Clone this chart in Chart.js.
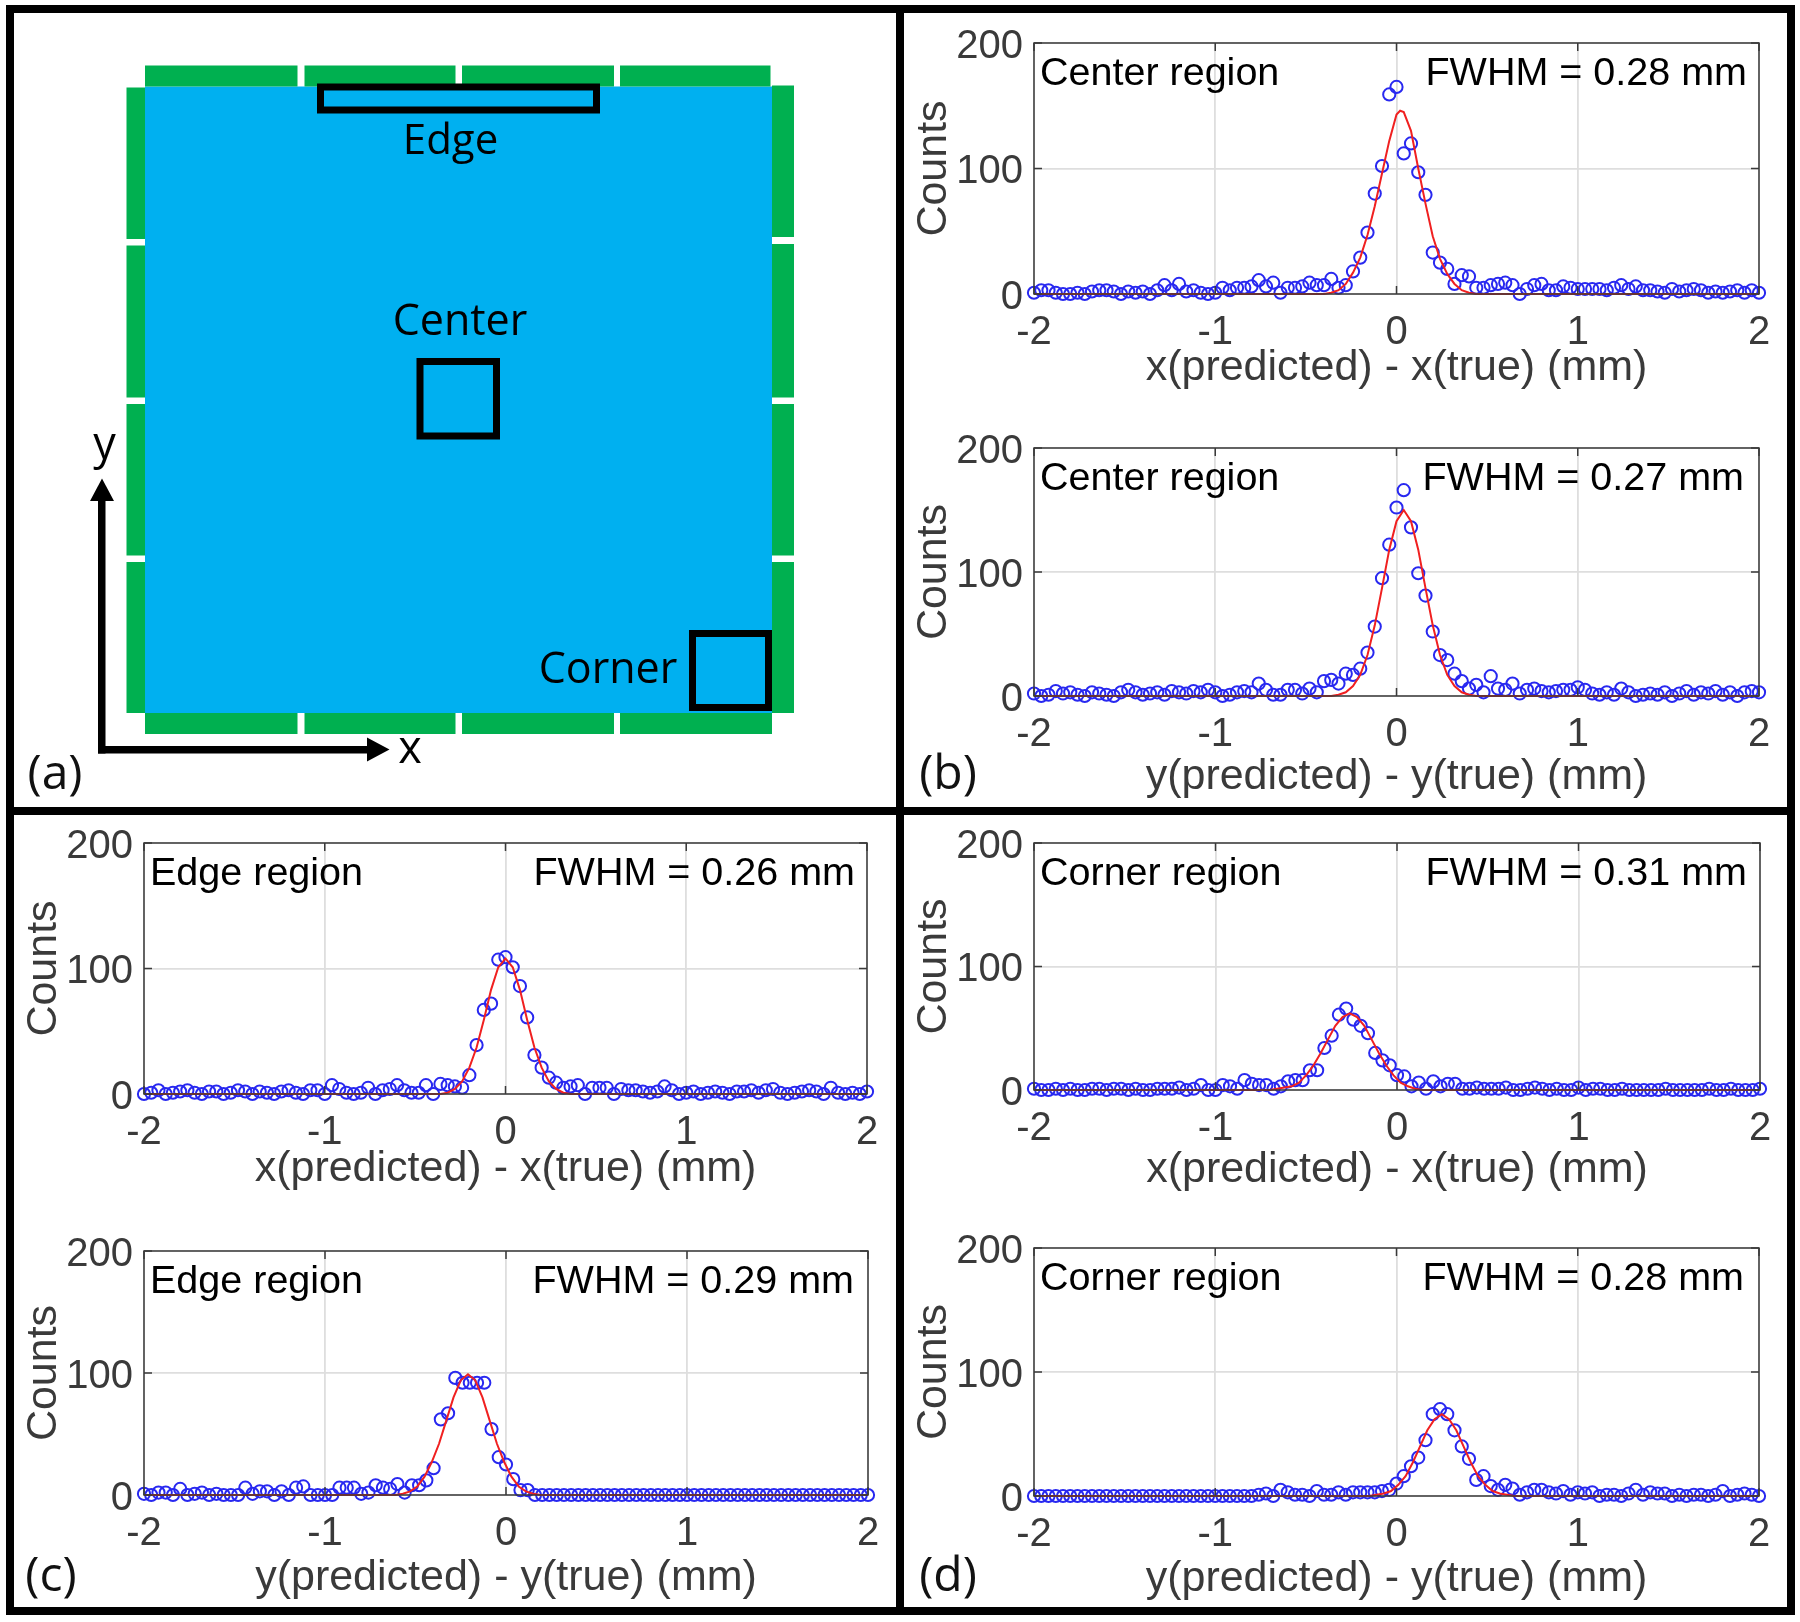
<!DOCTYPE html>
<html>
<head>
<meta charset="utf-8">
<title>Position histograms</title>
<script src="https://cdn.jsdelivr.net/npm/chart.js@4/dist/chart.umd.min.js"></script>
<style>
    html, body { margin: 0; padding: 0; background: #fff; }
    #page { position: relative; width: 1800px; height: 1622px; overflow: hidden; filter: blur(0.4px); }
    #page canvas { position: absolute; }
    .bar { position: absolute; background: #000; }
    .tag { position: absolute; font: 48px "Open Sans", sans-serif; color: #111; transform: translate(-50%, -50%); }
</style>
</head>
<body>
<div id="page">
    <canvas id="diagram" style="left:0;top:0" width="900" height="820"></canvas>
    <canvas id="c1" width="10" height="10"></canvas>
    <canvas id="c2" width="10" height="10"></canvas>
    <canvas id="c3" width="10" height="10"></canvas>
    <canvas id="c4" width="10" height="10"></canvas>
    <canvas id="c5" width="10" height="10"></canvas>
    <canvas id="c6" width="10" height="10"></canvas>
    <div class="bar" style="left:6px;top:5px;width:1789px;height:8px"></div>
    <div class="bar" style="left:6px;top:1607px;width:1789px;height:8px"></div>
    <div class="bar" style="left:6px;top:5px;width:8px;height:1610px"></div>
    <div class="bar" style="left:1787px;top:5px;width:8px;height:1610px"></div>
    <div class="bar" style="left:896px;top:5px;width:8px;height:1610px"></div>
    <div class="bar" style="left:6px;top:807px;width:1789px;height:8px"></div>
    <div class="tag" style="left:55px;top:770px">(a)</div>
    <div class="tag" style="left:948px;top:770px">(b)</div>
    <div class="tag" style="left:51px;top:1572px">(c)</div>
    <div class="tag" style="left:948px;top:1572px">(d)</div>
</div>
<script>
// histogram bin centers (mm)
const bins = [
    -2.00, -1.96, -1.92, -1.88, -1.84, -1.80, -1.76, -1.72, -1.68, -1.64,
    -1.60, -1.56, -1.52, -1.48, -1.44, -1.40, -1.36, -1.32, -1.28, -1.24,
    -1.20, -1.16, -1.12, -1.08, -1.04, -1.00, -0.96, -0.92, -0.88, -0.84,
    -0.80, -0.76, -0.72, -0.68, -0.64, -0.60, -0.56, -0.52, -0.48, -0.44,
    -0.40, -0.36, -0.32, -0.28, -0.24, -0.20, -0.16, -0.12, -0.08, -0.04,
    0.00, 0.04, 0.08, 0.12, 0.16, 0.20, 0.24, 0.28, 0.32, 0.36,
    0.40, 0.44, 0.48, 0.52, 0.56, 0.60, 0.64, 0.68, 0.72, 0.76,
    0.80, 0.84, 0.88, 0.92, 0.96, 1.00, 1.04, 1.08, 1.12, 1.16,
    1.20, 1.24, 1.28, 1.32, 1.36, 1.40, 1.44, 1.48, 1.52, 1.56,
    1.60, 1.64, 1.68, 1.72, 1.76, 1.80, 1.84, 1.88, 1.92, 1.96, 2.00
];

const xTickValues = [-2, -1, 0, 1, 2];
const yTickValues = [0, 100, 200];

// counts
const centerXCounts = [
    1, 3, 3, 1, 0, 0, 1, 0, 2, 3,
    3, 2, 0, 2, 1, 2, 0, 3, 7, 3,
    8, 2, 3, 1, 0, 1, 5, 3, 5, 5,
    6, 11, 6, 9, 1, 5, 5, 6, 9, 7,
    7, 12, 5, 7, 18, 29, 49, 80, 102, 159,
    165, 112, 120, 97, 79, 33, 25, 20, 8, 15,
    14, 5, 5, 7, 8, 9, 7, 0, 4, 7,
    8, 3, 3, 6, 5, 4, 4, 4, 4, 3,
    5, 7, 4, 6, 3, 3, 2, 1, 4, 2,
    3, 4, 3, 1, 2, 1, 2, 3, 1, 3, 1
];
const centerYCounts = [
    2, 0, 1, 4, 2, 3, 1, 0, 3, 2,
    1, 0, 3, 5, 3, 1, 2, 3, 1, 4,
    3, 2, 4, 3, 5, 3, 0, 1, 3, 4,
    3, 10, 5, 1, 1, 5, 5, 2, 6, 3,
    12, 13, 10, 18, 17, 22, 35, 56, 95, 122,
    152, 166, 136, 99, 81, 52, 33, 29, 18, 12,
    6, 9, 3, 16, 6, 5, 10, 2, 5, 6,
    4, 3, 4, 5, 5, 7, 5, 2, 1, 3,
    1, 6, 3, 0, 1, 2, 1, 3, 0, 2,
    4, 1, 3, 2, 4, 1, 3, 0, 3, 4, 3
];
const edgeXCounts = [
    0, 1, 3, 0, 1, 2, 3, 1, 0, 2,
    2, 0, 1, 3, 2, 0, 2, 1, 0, 2,
    3, 1, 0, 3, 3, 0, 7, 4, 1, 0,
    1, 5, 0, 3, 4, 7, 3, 1, 1, 7,
    0, 8, 7, 6, 5, 15, 39, 67, 72, 107,
    109, 101, 86, 61, 31, 21, 13, 9, 5, 6,
    7, 0, 5, 5, 5, 0, 4, 3, 3, 2,
    1, 2, 6, 3, 0, 1, 2, 0, 1, 2,
    1, 0, 2, 2, 3, 1, 3, 4, 1, 0,
    1, 2, 3, 2, 0, 5, 1, 0, 1, 0, 2
];
const edgeYCounts = [
    1, 0, 2, 2, 0, 5, 0, 1, 2, 0,
    1, 0, 0, 0, 6, 1, 3, 3, 0, 3,
    0, 6, 7, 0, 0, 0, 0, 6, 6, 6,
    1, 2, 8, 6, 5, 9, 2, 8, 8, 12,
    22, 62, 67, 96, 92, 92, 92, 92, 54, 31,
    25, 13, 4, 4, 0, 0, 0, 0, 0, 0,
    0, 0, 0, 0, 0, 0, 0, 0, 0, 0,
    0, 0, 0, 0, 0, 0, 0, 0, 0, 0,
    0, 0, 0, 0, 0, 0, 0, 0, 0, 0,
    0, 0, 0, 0, 0, 0, 0, 0, 0, 0, 0
];
const cornerXCounts = [
    1, 0, 0, 1, 0, 1, 0, 0, 1, 1,
    0, 1, 1, 0, 1, 0, 0, 1, 1, 1,
    2, 0, 1, 4, 0, 0, 4, 3, 1, 8,
    5, 4, 4, 1, 3, 7, 8, 8, 16, 16,
    34, 44, 61, 66, 57, 52, 46, 30, 24, 20,
    12, 11, 3, 6, 1, 7, 3, 5, 5, 1,
    1, 2, 1, 1, 1, 2, 0, 0, 1, 2,
    1, 0, 1, 0, 0, 2, 0, 1, 1, 0,
    0, 1, 0, 0, 0, 0, 0, 1, 0, 0,
    0, 0, 0, 1, 0, 0, 1, 0, 0, 0, 1
];
const cornerYCounts = [
    0, 0, 0, 0, 0, 0, 0, 0, 0, 0,
    0, 0, 0, 0, 0, 0, 0, 0, 0, 0,
    0, 0, 0, 0, 0, 0, 0, 0, 0, 0,
    0, 1, 2, 0, 5, 3, 1, 1, 0, 4,
    1, 1, 3, 1, 3, 3, 3, 3, 4, 5,
    10, 16, 24, 31, 45, 66, 70, 66, 53, 40,
    30, 13, 16, 8, 5, 9, 6, 1, 3, 5,
    5, 3, 2, 4, 1, 3, 2, 3, 0, 1,
    1, 0, 2, 5, 1, 3, 2, 2, 0, 1,
    0, 1, 1, 0, 1, 4, 0, 1, 2, 1, 0
];

// fitted curves
const centerXFitX = [-2, -0.4, -0.36, -0.32, -0.28, -0.24, -0.2, -0.16, -0.12, -0.08, -0.04, 0, 0.02, 0.04, 0.08, 0.12, 0.16, 0.2, 0.24, 0.28, 0.32, 0.36, 0.4, 0.44, 2];
const centerXFitY = [0, 0, 1, 3, 8, 17, 29, 47, 70, 96, 122, 143, 146, 145, 130, 100, 72, 46, 28, 16, 8, 3, 1, 0, 0];
const centerYFitX = [-2, -0.36, -0.32, -0.28, -0.24, -0.2, -0.16, -0.12, -0.08, -0.04, 0, 0.04, 0.08, 0.12, 0.16, 0.2, 0.24, 0.28, 0.32, 0.36, 0.4, 0.44, 2];
const centerYFitY = [0, 0, 1, 3, 8, 17, 33, 57, 87, 118, 141, 150, 141, 118, 87, 57, 33, 17, 8, 3, 1, 0, 0];
const edgeXFitX = [-2, -0.36, -0.32, -0.28, -0.24, -0.2, -0.16, -0.12, -0.08, -0.04, 0, 0.04, 0.08, 0.12, 0.16, 0.2, 0.24, 0.28, 0.32, 0.36, 2];
const edgeXFitY = [0, 0, 1, 4, 10, 21, 37, 59, 83, 101, 108, 101, 83, 59, 37, 21, 10, 4, 1, 0, 0];
const edgeYFitX = [-2, -0.61, -0.57, -0.53, -0.49, -0.45, -0.41, -0.37, -0.33, -0.29, -0.25, -0.21, -0.17, -0.13, -0.09, -0.05, -0.01, 0.03, 0.07, 0.11, 0.15, 0.19, 2];
const edgeYFitY = [0, 0, 1, 3, 7, 15, 27, 42, 61, 80, 94, 99, 94, 80, 61, 42, 27, 15, 7, 3, 1, 0, 0];
const cornerXFitX = [-2, -0.7, -0.66, -0.62, -0.58, -0.54, -0.5, -0.46, -0.42, -0.38, -0.34, -0.3, -0.26, -0.22, -0.18, -0.14, -0.1, -0.06, -0.02, 0.02, 0.06, 0.1, 0.14, 2];
const cornerXFitY = [0, 0, 1, 2, 3, 6, 12, 20, 30, 41, 52, 59, 62, 59, 52, 41, 30, 20, 12, 6, 3, 1, 0, 0];
const cornerYFitX = [-2, -0.15, -0.11, -0.07, -0.03, 0.01, 0.05, 0.09, 0.13, 0.17, 0.21, 0.25, 0.29, 0.33, 0.37, 0.41, 0.45, 0.49, 0.53, 0.57, 0.61, 0.65, 2];
const cornerYFitY = [0, 0, 1, 2, 4, 9, 16, 27, 40, 53, 62, 66, 62, 53, 40, 27, 16, 9, 4, 2, 1, 0, 0];

const FONT = '"Liberation Sans", Arial, sans-serif';
const DARK = '#3a3a3a';
const LEFT_W = 126, TOP_PAD = 30, RIGHT_PAD = 32;

function pairs(xs, ys) {
    return xs.map((x, i) => ({ x: x, y: ys[i] }));
}

// matlab style box, inward ticks and the two labels inside the axes
const boxPlugin = {
    id: 'box',
    afterDraw(chart, args, opts) {
        const { ctx, chartArea: a, scales } = chart;
        ctx.save();
        ctx.strokeStyle = DARK;
        ctx.lineWidth = 1.5;
        ctx.strokeRect(a.left, a.top, a.right - a.left, a.bottom - a.top);
        ctx.beginPath();
        xTickValues.forEach(v => {
            const px = scales.x.getPixelForValue(v);
            ctx.moveTo(px, a.bottom); ctx.lineTo(px, a.bottom - 8);
            ctx.moveTo(px, a.top); ctx.lineTo(px, a.top + 8);
        });
        yTickValues.forEach(v => {
            const py = scales.y.getPixelForValue(v);
            ctx.moveTo(a.left, py); ctx.lineTo(a.left + 8, py);
            ctx.moveTo(a.right, py); ctx.lineTo(a.right - 8, py);
        });
        ctx.stroke();
        ctx.fillStyle = '#000';
        ctx.font = '39.5px ' + FONT;
        ctx.textBaseline = 'middle';
        ctx.textAlign = 'left';
        ctx.fillText(opts.region, a.left + 6, a.top + 31);
        ctx.textAlign = 'right';
        ctx.fillText(opts.fwhm, a.right - opts.fwhmInset, a.top + 31);
        ctx.restore();
    }
};

function histogram(id, box, axisName, counts, fitX, fitY, region, fwhm, fwhmInset) {
    const canvas = document.getElementById(id);
    const bottomH = box.drop + 29;
    canvas.width = box.r - box.l + LEFT_W + RIGHT_PAD;
    canvas.height = box.b - box.t + bottomH + TOP_PAD;
    canvas.style.left = (box.l - LEFT_W) + 'px';
    canvas.style.top = (box.t - TOP_PAD) + 'px';
    canvas.style.width = canvas.width + 'px';
    canvas.style.height = canvas.height + 'px';
    return new Chart(canvas, {
        type: 'scatter',
        data: {
            datasets: [
                {
                    label: 'fit',
                    data: pairs(fitX, fitY),
                    showLine: true,
                    borderColor: '#f02020',
                    borderWidth: 2,
                    pointRadius: 0,
                    tension: 0,
                    clip: false,
                    order: 1
                },
                {
                    label: 'counts',
                    data: pairs(bins, counts),
                    showLine: false,
                    pointStyle: 'circle',
                    pointRadius: 6.1,
                    pointBorderWidth: 2,
                    pointBorderColor: '#2828f0',
                    pointBackgroundColor: 'rgba(0,0,0,0)',
                    clip: false,
                    order: 2
                }
            ]
        },
        options: {
            responsive: false,
            animation: false,
            layout: { padding: { top: TOP_PAD, right: RIGHT_PAD, left: 0, bottom: 0 } },
            plugins: {
                legend: { display: false },
                tooltip: { enabled: false },
                box: { region: region, fwhm: fwhm, fwhmInset: fwhmInset }
            },
            scales: {
                x: {
                    type: 'linear',
                    min: -2,
                    max: 2,
                    afterFit: s => { s.height = bottomH; s.paddingLeft = 0; s.paddingRight = 0; },
                    afterBuildTicks: s => { s.ticks = xTickValues.map(v => ({ value: v })); },
                    grid: { color: '#dedede', lineWidth: 1.8, drawTicks: false },
                    border: { display: false },
                    ticks: { color: DARK, font: { family: FONT, size: 40 }, padding: 15, maxRotation: 0, autoSkip: false },
                    title: { display: true, text: axisName + '(predicted) - ' + axisName + '(true) (mm)', color: DARK, font: { family: FONT, size: 43 }, padding: { top: 0, bottom: 0 } }
                },
                y: {
                    min: 0,
                    max: 200,
                    afterFit: s => { s.width = LEFT_W; s.paddingTop = 0; s.paddingBottom = 0; },
                    afterBuildTicks: s => { s.ticks = yTickValues.map(v => ({ value: v })); },
                    grid: { color: '#dedede', lineWidth: 1.8, drawTicks: false },
                    border: { display: false },
                    // empty first line + tight line height nudges the labels a bit under the grid line, as in the original
                    ticks: { color: DARK, font: { family: FONT, size: 40, lineHeight: '7px' }, padding: 11, callback: v => ['', String(v)] },
                    title: { display: true, text: 'Counts', color: DARK, font: { family: FONT, size: 43 }, padding: { top: 0, bottom: 0 } }
                }
            }
        },
        plugins: [boxPlugin]
    });
}

histogram('c1', { l: 1034, r: 1759, t: 43, b: 294, drop: 71 }, 'x', centerXCounts, centerXFitX, centerXFitY, 'Center region', 'FWHM = 0.28 mm', 12);
histogram('c2', { l: 1034, r: 1759, t: 448, b: 696, drop: 78 }, 'y', centerYCounts, centerYFitX, centerYFitY, 'Center region', 'FWHM = 0.27 mm', 15);
histogram('c3', { l: 144, r: 867, t: 843, b: 1094, drop: 72 }, 'x', edgeXCounts, edgeXFitX, edgeXFitY, 'Edge region', 'FWHM = 0.26 mm', 12);
histogram('c4', { l: 144, r: 868, t: 1251, b: 1495, drop: 80 }, 'y', edgeYCounts, edgeYFitX, edgeYFitY, 'Edge region', 'FWHM = 0.29 mm', 14);
histogram('c5', { l: 1034, r: 1760, t: 843, b: 1090, drop: 77 }, 'x', cornerXCounts, cornerXFitX, cornerXFitY, 'Corner region', 'FWHM = 0.31 mm', 13);
histogram('c6', { l: 1034, r: 1759, t: 1248, b: 1496, drop: 80 }, 'y', cornerYCounts, cornerYFitX, cornerYFitY, 'Corner region', 'FWHM = 0.28 mm', 15);

// panel (a): detector layout, one diagram unit is one page pixel
const GREEN = '#00b050', BLUE = '#00b0f0';
const topSensors = [[145, 297.5], [304.5, 455.5], [462, 614], [620, 770.5]];
const bottomSensors = [[145, 297.5], [304.5, 455.5], [462, 614], [620, 772]];
const leftSensors = [[87.5, 239], [245.5, 397.5], [404, 555.5], [562, 713]];
const rightSensors = [[85.5, 237], [244, 397.5], [404, 555.5], [562, 713]];
const regionBoxes = [[320.5, 596.5, 87, 110], [420, 496.5, 361.5, 436], [692.5, 768.5, 633.5, 707.5]];
const diagramLabels = [
    ['Edge', 450.5, 142, 42],
    ['Center', 460, 323, 43],
    ['Corner', 608, 671, 43],
    ['y', 104.5, 446, 45],
    ['x', 410, 750, 45]
];

function rectPts(x0, x1, y0, y1) {
    return [{ x: x0, y: y0 }, { x: x1, y: y0 }, { x: x1, y: y1 }, { x: x0, y: y1 }, { x: x0, y: y0 }];
}
function solid(points, color) {
    return { data: points, showLine: true, fill: 'shape', backgroundColor: color, borderWidth: 0, pointRadius: 0, tension: 0 };
}

const diagramSets = [solid(rectPts(145, 772, 86.5, 713), BLUE)];
topSensors.forEach(s => diagramSets.push(solid(rectPts(s[0], s[1], 65.5, 86.5), GREEN)));
bottomSensors.forEach(s => diagramSets.push(solid(rectPts(s[0], s[1], 713, 734), GREEN)));
leftSensors.forEach(s => diagramSets.push(solid(rectPts(126.5, 145, s[0], s[1]), GREEN)));
rightSensors.forEach(s => diagramSets.push(solid(rectPts(772, 794, s[0], s[1]), GREEN)));
regionBoxes.forEach(b => diagramSets.push({
    data: rectPts(b[0], b[1], b[2], b[3]), showLine: true, borderColor: '#000', borderWidth: 7,
    borderJoinStyle: 'miter', borderCapStyle: 'square', pointRadius: 0, tension: 0, fill: false
}));
// coordinate arrows
diagramSets.push(solid(rectPts(98, 105.5, 500, 753.5), '#000'));
diagramSets.push(solid(rectPts(98, 368, 746, 753.5), '#000'));
diagramSets.push(solid([{ x: 102, y: 478.5 }, { x: 114, y: 501 }, { x: 90, y: 501 }, { x: 102, y: 478.5 }], '#000'));
diagramSets.push(solid([{ x: 389.5, y: 749.5 }, { x: 367, y: 737.5 }, { x: 367, y: 761.5 }, { x: 389.5, y: 749.5 }], '#000'));
// chart.js paints the first dataset last, the blue block has to go under everything
diagramSets.reverse();

const labelPlugin = {
    id: 'labels',
    afterDraw(chart) {
        const { ctx, scales } = chart;
        ctx.save();
        ctx.fillStyle = '#000';
        ctx.textAlign = 'center';
        ctx.textBaseline = 'middle';
        diagramLabels.forEach(l => {
            ctx.font = l[3] + 'px "Open Sans", sans-serif';
            ctx.fillText(l[0], scales.x.getPixelForValue(l[1]), scales.y.getPixelForValue(l[2]));
        });
        ctx.restore();
    }
};

new Chart(document.getElementById('diagram'), {
    type: 'scatter',
    data: { datasets: diagramSets },
    options: {
        responsive: false,
        animation: false,
        layout: { padding: 0 },
        plugins: { legend: { display: false }, tooltip: { enabled: false } },
        scales: {
            x: { min: 0, max: 900, display: false },
            y: { min: 0, max: 820, reverse: true, display: false }
        }
    },
    plugins: [labelPlugin]
});
</script>
</body>
</html>
